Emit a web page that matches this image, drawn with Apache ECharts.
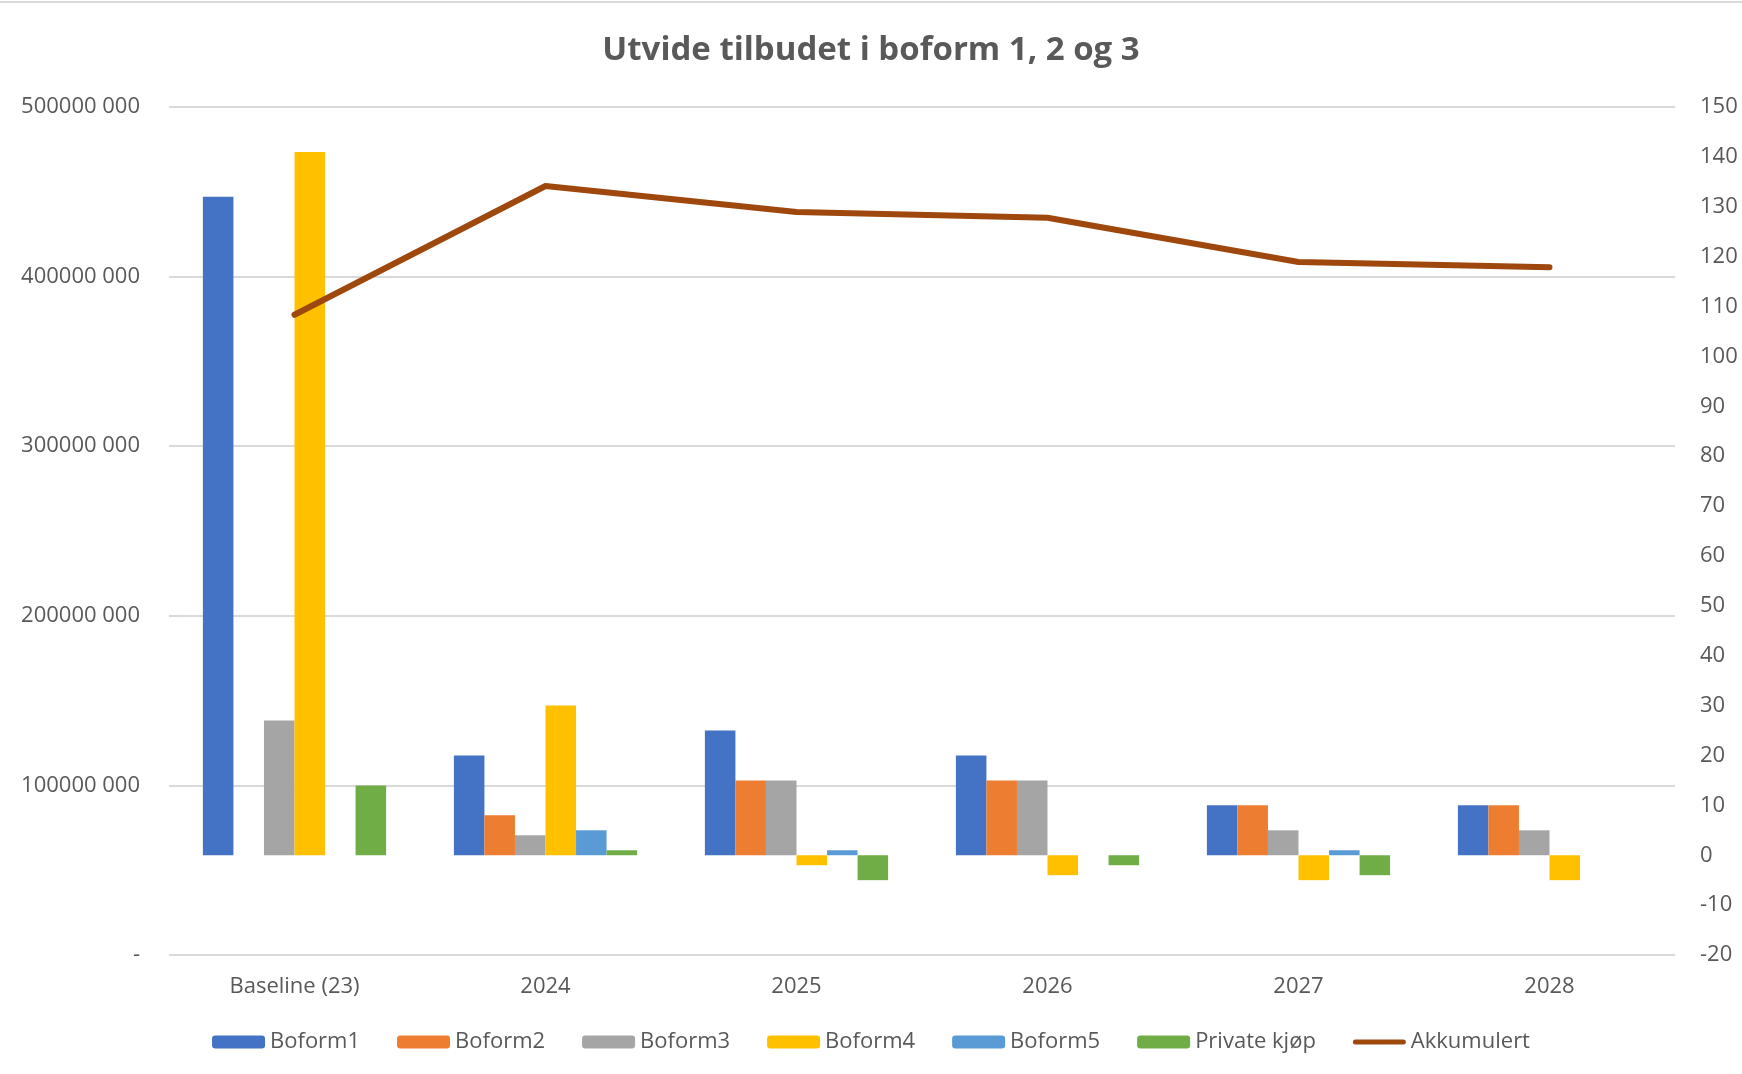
<!DOCTYPE html>
<html>
<head>
<meta charset="utf-8">
<script src="https://cdn.jsdelivr.net/npm/echarts@6/dist/echarts.min.js"></script>
<style>
html,body{margin:0;padding:0;background:#fff;}
#chart{width:1742px;height:1074px;}
</style>
</head>
<body>
<div id="chart"></div>
<script>
const categories = ['Baseline (23)', '2024', '2025', '2026', '2027', '2028'];
const boform1 = [132, 20, 25, 20, 10, 10];
const boform2 = [0, 8, 15, 15, 10, 10];
const boform3 = [27, 4, 15, 15, 5, 5];
const boform4 = [141, 30, -2, -4, -5, -5];
const boform5 = [0, 5, 1, 0, 1, 0];
const privateKjop = [14, 1, -5, -2, -4, 0];
const akkumulert = [377500000, 453400000, 438100000, 434700000, 408600000, 405500000];

const txt = '#595959';
const font = 'Open Sans';

function moneyFmt(v) {
  if (v === 0) return '-';
  const th = Math.floor(v / 1000);
  const rest = String(v % 1000).padStart(3, '0');
  return th + ' ' + rest;
}

const chart = echarts.init(document.getElementById('chart'));
const barSeries = (name, data, color) => ({
  name, type: 'bar', yAxisIndex: 1, data,
  barGap: '0%', barCategoryGap: '27%',
  itemStyle: { color }
});

chart.setOption({
  animation: false,
  backgroundColor: '#fff',
  title: {
    text: 'Utvide tilbudet i boform 1, 2 og 3',
    left: 'center', top: 29,
    textStyle: { fontFamily: font, fontWeight: 'bold', fontSize: 33, color: txt }
  },
  graphic: [{
    type: 'line', shape: { x1: 0, y1: 2, x2: 1742, y2: 2 },
    style: { stroke: '#d9d9d9', lineWidth: 2 }
  }],
  grid: { left: 169, right: 67, top: 107, bottom: 119 },
  legend: {
    bottom: 16, left: 'center',
    itemWidth: 53, itemHeight: 13, itemGap: 37,
    symbolKeepAspect: true,
    textStyle: { fontFamily: font, fontSize: 22, color: txt },
    data: ['Boform1', 'Boform2', 'Boform3', 'Boform4', 'Boform5', 'Private kjøp',
      { name: 'Akkumulert', icon: 'path://M2.5,0 L50.5,0 A2.5,2.5 0 0 1 50.5,5 L2.5,5 A2.5,2.5 0 0 1 2.5,0 Z' }]
  },
  xAxis: {
    type: 'category', data: categories,
    axisLine: { show: false }, axisTick: { show: false },
    axisLabel: { fontFamily: font, fontSize: 22, color: txt, margin: 21 }
  },
  yAxis: [{
    type: 'value', min: 0, max: 500000000, interval: 100000000,
    axisLine: { show: false }, axisTick: { show: false },
    splitLine: { lineStyle: { color: '#d9d9d9', width: 2 } },
    axisLabel: { fontFamily: font, fontSize: 22, color: txt, margin: 29, formatter: moneyFmt }
  }, {
    type: 'value', min: -20, max: 150, interval: 10,
    axisLine: { show: false }, axisTick: { show: false },
    splitLine: { show: false },
    axisLabel: { fontFamily: font, fontSize: 22, color: txt, margin: 25 }
  }],
  series: [
    barSeries('Boform1', boform1, '#4472C4'),
    barSeries('Boform2', boform2, '#ED7D31'),
    barSeries('Boform3', boform3, '#A5A5A5'),
    barSeries('Boform4', boform4, '#FFC000'),
    barSeries('Boform5', boform5, '#5B9BD5'),
    barSeries('Private kjøp', privateKjop, '#70AD47'),
    {
      name: 'Akkumulert', type: 'line', yAxisIndex: 0, data: akkumulert,
      symbol: 'none', z: 5,
      itemStyle: { color: '#9E480E' },
      lineStyle: { color: '#9E480E', width: 6, cap: 'round', join: 'round' }
    }
  ]
});
</script>
</body>
</html>
